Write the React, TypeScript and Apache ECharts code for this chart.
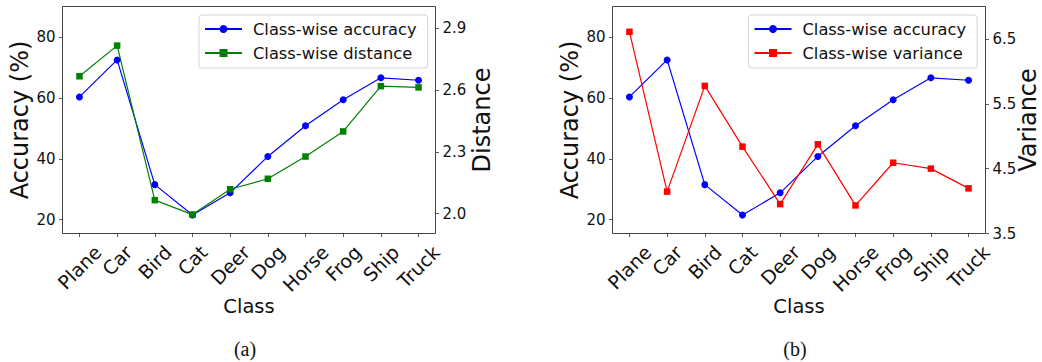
import React, { useEffect, useRef } from "react";
import * as echarts from "echarts";

const categories = ["Plane", "Car", "Bird", "Cat", "Deer", "Dog", "Horse", "Frog", "Ship", "Truck"];
const accuracy = [60.4, 72.6, 31.5, 21.5, 28.8, 40.8, 50.9, 59.5, 66.7, 65.9];
const distance = [2.667, 2.816, 2.065, 1.995, 2.118, 2.169, 2.277, 2.399, 2.619, 2.613];
const variance = [6.61, 4.146, 5.776, 4.839, 3.953, 4.875, 3.933, 4.591, 4.5, 4.196];
const accTicks = [20, 40, 60, 80];
const distTicks = [2.0, 2.3, 2.6, 2.9];
const varTicks = [3.5, 4.5, 5.5, 6.5];
const captions = ["(a)", "(b)"];

const FONT = "DejaVu Sans";
const XLABEL_SIZE = 19;

// layout (pixels)
const frames = [
  { left: 62.5, right: 435.5, top: 6.5, bottom: 233.5 },
  { left: 612.5, right: 985.5, top: 6.5, bottom: 233.5 },
];
const PADFRAC = 0.45 / 9.9;

function yAxisBase(gridIndex: number, position: string, min: number, max: number, ticks: number[], name: string, nameGap: number, dec: number, offset: number, noMove = false) {
  return {
    type: "value",
    gridIndex,
    position,
    min,
    max,
    offset,
    splitLine: { show: false },
    axisLine: { show: false },
    axisTick: { show: true, length: 3.5, customValues: ticks, lineStyle: { color: "#333", width: 0.8 } },
    axisLabel: {
      customValues: ticks,
      fontFamily: FONT,
      fontSize: 15,
      color: "#111",
      margin: 7,
      formatter: (v: number) => v.toFixed(dec),
    },
    name,
    nameLocation: "middle",
    nameRotate: 90,
    nameGap,
    ...(noMove ? { nameMoveOverlap: false } : {}),
    nameTextStyle: { fontFamily: FONT, fontSize: 24, color: "#111" },
  };
}

function xAxisBase(gridIndex: number) {
  return {
    type: "category",
    gridIndex,
    data: categories,
    boundaryGap: false,
    axisLine: { show: false },
    axisTick: { show: true, length: 3.5, interval: 0, lineStyle: { color: "#333", width: 0.8 } },
    axisLabel: { show: false, interval: 0 },
    splitLine: { show: false },
    name: "Class",
    nameLocation: "middle",
    nameGap: 63,
    nameTextStyle: { fontFamily: FONT, fontSize: 19.5, color: "#111" },
  };
}

function legendBase(left: number, names: string[]) {
  return {
    data: names,
    orient: "vertical",
    left,
    top: 15,
    padding: [5, 11, 6, 5],
    itemWidth: 37,
    itemHeight: 10,
    itemGap: 6,
    backgroundColor: "rgba(255,255,255,0.9)",
    borderColor: "#d3d3d3",
    borderWidth: 1,
    borderRadius: 3,
    selectedMode: false,
    textStyle: { fontFamily: FONT, fontSize: 16.3, color: "#111", lineHeight: 18, padding: [0, 0, 0, 6] },
  };
}

export default function App() {
  const ref = useRef<HTMLDivElement>(null);
  useEffect(() => {
    if (!ref.current) return;
    const chart = echarts.init(ref.current, undefined, { renderer: "svg" });
    const grids = frames.map((f) => {
      const w = f.right - f.left;
      const pad = w * PADFRAC;
      return {
        left: f.left + pad,
        top: f.top,
        width: w - 2 * pad,
        height: f.bottom - f.top,
        containLabel: false,
        outerBoundsMode: "none",
      };
    });
    const pads = frames.map((f) => (f.right - f.left) * PADFRAC);
    const option: any = {
      animation: false,
      backgroundColor: "#fff",
      grid: grids,
      xAxis: [xAxisBase(0), xAxisBase(1)],
      yAxis: [
        yAxisBase(0, "left", 15.4, 90.2, accTicks, "Accuracy (%)", 31, 0, pads[0]),
        yAxisBase(0, "right", 1.903, 3.006, distTicks, "Distance", 34, 1, pads[0]),
        yAxisBase(1, "left", 15.4, 90.2, accTicks, "Accuracy (%)", 31, 0, pads[1]),
        yAxisBase(1, "right", 3.5, 7.0, varTicks, "Variance", 30, 1, pads[1], true),
      ],
      legend: [
        legendBase(199, ["Class-wise accuracy", "Class-wise distance"]),
        legendBase(748.5, ["Class-wise accuracy", "Class-wise variance"]),
      ],
      series: [
        {
          name: "Class-wise accuracy",
          type: "line",
          xAxisIndex: 0,
          yAxisIndex: 0,
          data: accuracy,
          symbol: "circle",
          symbolSize: 7,
          color: "#0000ff",
          lineStyle: { width: 1.2, color: "#0000ff" },
          itemStyle: { color: "#0000ff" },
        },
        {
          name: "Class-wise distance",
          type: "line",
          xAxisIndex: 0,
          yAxisIndex: 1,
          data: distance,
          symbol: "rect",
          symbolSize: 6.5,
          color: "#008000",
          lineStyle: { width: 1.2, color: "#008000" },
          itemStyle: { color: "#008000" },
        },
        {
          name: "Class-wise accuracy",
          type: "line",
          xAxisIndex: 1,
          yAxisIndex: 2,
          data: accuracy,
          symbol: "circle",
          symbolSize: 7,
          color: "#0000ff",
          lineStyle: { width: 1.2, color: "#0000ff" },
          itemStyle: { color: "#0000ff" },
        },
        {
          name: "Class-wise variance",
          type: "line",
          xAxisIndex: 1,
          yAxisIndex: 3,
          data: variance,
          symbol: "rect",
          symbolSize: 6.5,
          color: "#ff0000",
          lineStyle: { width: 1.2, color: "#ff0000" },
          itemStyle: { color: "#ff0000" },
        },
      ],
    };
    chart.setOption(option);

    // rotated category labels (matplotlib-style: rotated 45°, bbox centred on the tick)
    const canvas = document.createElement("canvas");
    const ctx = canvas.getContext("2d")!;
    ctx.font = `${XLABEL_SIZE}px "${FONT}"`;
    const graphics: any[] = [];
    frames.forEach((f, gi) => {
      graphics.push({
        type: "rect",
        shape: { x: f.left, y: f.top, width: f.right - f.left, height: f.bottom - f.top },
        style: { fill: "none", stroke: "#444", lineWidth: 1 },
        z: 10,
      });
      categories.forEach((c) => {
        const px = chart.convertToPixel({ xAxisIndex: gi } as any, c) as any;
        const x = Array.isArray(px) ? px[0] : px;
        const L = ctx.measureText(c).width;
        const y0 = f.bottom + 9;
        const cy = y0 + 0.3536 * (L + 18);
        graphics.push({
          type: "text",
          x,
          y: cy,
          rotation: Math.PI / 4,
          style: {
            text: c,
            fontFamily: FONT,
            fontSize: XLABEL_SIZE,
            fill: "#111",
            align: "center",
            verticalAlign: "middle",
          },
        });
      });
      graphics.push({
        type: "text",
        x: (f.left + f.right) / 2 - 4,
        y: 349,
        style: {
          text: captions[gi],
          fontFamily: "Liberation Serif",
          fontSize: 20,
          fill: "#111",
          align: "center",
          verticalAlign: "middle",
        },
      });
    });
    chart.setOption({ graphic: graphics });
    return () => chart.dispose();
  }, []);
  return (
    <div
      ref={ref}
      style={{ position: "absolute", left: 0, top: 0, width: 1042, height: 362 }}
    />
  );
}
